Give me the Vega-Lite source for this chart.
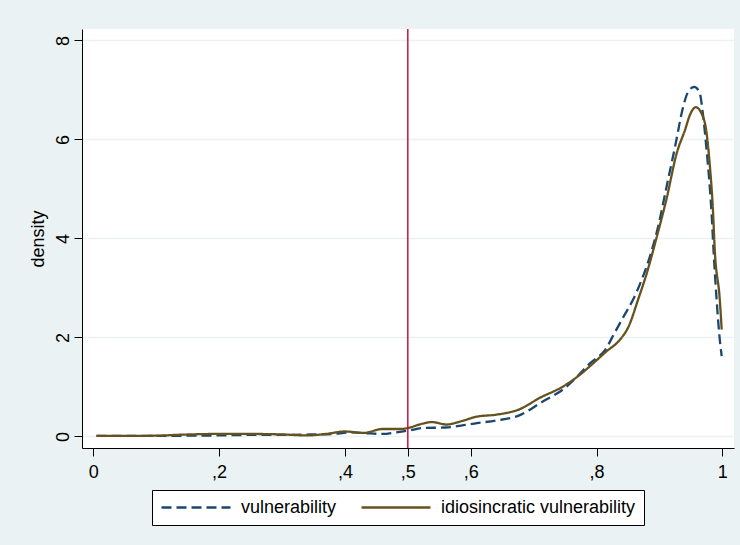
{
  "$schema": "https://vega.github.io/schema/vega-lite/v6.json",
  "width": 652,
  "height": 419,
  "autosize": "none",
  "padding": {"left": 82, "top": 29, "right": 6, "bottom": 97},
  "background": "#EAF2F3",
  "config": {
    "view": {"fill": "white", "stroke": null},
    "font": "Liberation Sans",
    "legend": {
      "orient": "none",
      "legendX": 70,
      "legendY": 461,
      "direction": "horizontal",
      "symbolType": "stroke",
      "symbolSize": 4761,
      "symbolStrokeWidth": 2.3,
      "clipHeight": 19,
      "labelFontSize": 18,
      "labelColor": "#000",
      "labelLimit": 0,
      "labelOffset": 9,
      "columnPadding": 23,
      "padding": 8,
      "strokeColor": "#000",
      "fillColor": "white"
    }
  },
  "datasets": {
    "curves": [
      {"series": "vulnerability", "x": 0.005, "density": 0.01},
      {"series": "vulnerability", "x": 0.05, "density": 0.01},
      {"series": "vulnerability", "x": 0.1, "density": 0.01},
      {"series": "vulnerability", "x": 0.15, "density": 0.015},
      {"series": "vulnerability", "x": 0.2, "density": 0.02},
      {"series": "vulnerability", "x": 0.25, "density": 0.03},
      {"series": "vulnerability", "x": 0.3, "density": 0.03},
      {"series": "vulnerability", "x": 0.35, "density": 0.04},
      {"series": "vulnerability", "x": 0.38, "density": 0.05},
      {"series": "vulnerability", "x": 0.41, "density": 0.08},
      {"series": "vulnerability", "x": 0.44, "density": 0.06},
      {"series": "vulnerability", "x": 0.46, "density": 0.05},
      {"series": "vulnerability", "x": 0.48, "density": 0.08},
      {"series": "vulnerability", "x": 0.5, "density": 0.115},
      {"series": "vulnerability", "x": 0.525, "density": 0.17},
      {"series": "vulnerability", "x": 0.56, "density": 0.18},
      {"series": "vulnerability", "x": 0.585, "density": 0.22},
      {"series": "vulnerability", "x": 0.61, "density": 0.27},
      {"series": "vulnerability", "x": 0.64, "density": 0.32},
      {"series": "vulnerability", "x": 0.68, "density": 0.44},
      {"series": "vulnerability", "x": 0.71, "density": 0.67},
      {"series": "vulnerability", "x": 0.75, "density": 0.98},
      {"series": "vulnerability", "x": 0.79, "density": 1.48},
      {"series": "vulnerability", "x": 0.816, "density": 1.79},
      {"series": "vulnerability", "x": 0.827, "density": 2.05},
      {"series": "vulnerability", "x": 0.843, "density": 2.42},
      {"series": "vulnerability", "x": 0.858, "density": 2.76},
      {"series": "vulnerability", "x": 0.872, "density": 3.17},
      {"series": "vulnerability", "x": 0.885, "density": 3.64},
      {"series": "vulnerability", "x": 0.898, "density": 4.24},
      {"series": "vulnerability", "x": 0.9115, "density": 5.05},
      {"series": "vulnerability", "x": 0.925, "density": 5.86},
      {"series": "vulnerability", "x": 0.938, "density": 6.67},
      {"series": "vulnerability", "x": 0.946, "density": 6.97},
      {"series": "vulnerability", "x": 0.9555, "density": 7.06},
      {"series": "vulnerability", "x": 0.964, "density": 6.94},
      {"series": "vulnerability", "x": 0.969, "density": 6.53},
      {"series": "vulnerability", "x": 0.9745, "density": 5.86},
      {"series": "vulnerability", "x": 0.98, "density": 5.05},
      {"series": "vulnerability", "x": 0.983, "density": 4.5},
      {"series": "vulnerability", "x": 0.986, "density": 3.77},
      {"series": "vulnerability", "x": 0.991, "density": 2.76},
      {"series": "vulnerability", "x": 0.995, "density": 2.09},
      {"series": "vulnerability", "x": 0.999, "density": 1.62},
      {"series": "idiosincratic vulnerability", "x": 0.005, "density": 0.01},
      {"series": "idiosincratic vulnerability", "x": 0.05, "density": 0.01},
      {"series": "idiosincratic vulnerability", "x": 0.1, "density": 0.015},
      {"series": "idiosincratic vulnerability", "x": 0.14, "density": 0.035},
      {"series": "idiosincratic vulnerability", "x": 0.2, "density": 0.05},
      {"series": "idiosincratic vulnerability", "x": 0.25, "density": 0.05},
      {"series": "idiosincratic vulnerability", "x": 0.3, "density": 0.04},
      {"series": "idiosincratic vulnerability", "x": 0.34, "density": 0.02},
      {"series": "idiosincratic vulnerability", "x": 0.37, "density": 0.05},
      {"series": "idiosincratic vulnerability", "x": 0.4, "density": 0.1},
      {"series": "idiosincratic vulnerability", "x": 0.43, "density": 0.07},
      {"series": "idiosincratic vulnerability", "x": 0.46, "density": 0.15},
      {"series": "idiosincratic vulnerability", "x": 0.49, "density": 0.15},
      {"series": "idiosincratic vulnerability", "x": 0.5, "density": 0.17},
      {"series": "idiosincratic vulnerability", "x": 0.524, "density": 0.26},
      {"series": "idiosincratic vulnerability", "x": 0.538, "density": 0.29},
      {"series": "idiosincratic vulnerability", "x": 0.562, "density": 0.24},
      {"series": "idiosincratic vulnerability", "x": 0.583, "density": 0.3},
      {"series": "idiosincratic vulnerability", "x": 0.61, "density": 0.4},
      {"series": "idiosincratic vulnerability", "x": 0.641, "density": 0.44},
      {"series": "idiosincratic vulnerability", "x": 0.678, "density": 0.55},
      {"series": "idiosincratic vulnerability", "x": 0.71, "density": 0.78},
      {"series": "idiosincratic vulnerability", "x": 0.747, "density": 1.01},
      {"series": "idiosincratic vulnerability", "x": 0.774, "density": 1.25},
      {"series": "idiosincratic vulnerability", "x": 0.795, "density": 1.48},
      {"series": "idiosincratic vulnerability", "x": 0.816, "density": 1.72},
      {"series": "idiosincratic vulnerability", "x": 0.837, "density": 1.95},
      {"series": "idiosincratic vulnerability", "x": 0.851, "density": 2.22},
      {"series": "idiosincratic vulnerability", "x": 0.866, "density": 2.76},
      {"series": "idiosincratic vulnerability", "x": 0.88, "density": 3.3},
      {"series": "idiosincratic vulnerability", "x": 0.896, "density": 4.04},
      {"series": "idiosincratic vulnerability", "x": 0.911, "density": 4.78},
      {"series": "idiosincratic vulnerability", "x": 0.9275, "density": 5.72},
      {"series": "idiosincratic vulnerability", "x": 0.941, "density": 6.2},
      {"series": "idiosincratic vulnerability", "x": 0.9487, "density": 6.5},
      {"series": "idiosincratic vulnerability", "x": 0.958, "density": 6.65},
      {"series": "idiosincratic vulnerability", "x": 0.9667, "density": 6.53},
      {"series": "idiosincratic vulnerability", "x": 0.975, "density": 6.13},
      {"series": "idiosincratic vulnerability", "x": 0.98, "density": 5.5},
      {"series": "idiosincratic vulnerability", "x": 0.985, "density": 4.6},
      {"series": "idiosincratic vulnerability", "x": 0.988, "density": 3.77},
      {"series": "idiosincratic vulnerability", "x": 0.996, "density": 2.76},
      {"series": "idiosincratic vulnerability", "x": 0.999, "density": 2.16}
    ]
  },
  "layer": [
    {
      "data": {"name": "curves"},
      "mark": {"type": "line", "interpolate": "monotone", "strokeWidth": 2.3},
      "encoding": {
        "x": {
          "field": "x",
          "type": "quantitative",
          "scale": {"domain": [-0.018, 1.0186], "nice": false, "zero": false},
          "axis": {
            "title": null,
            "values": [0, 0.2, 0.4, 0.5, 0.6, 0.8, 1],
            "labelExpr": "replace(format(datum.value, '~g'), '0.', ',')",
            "grid": false,
            "domainColor": "#000",
            "tickColor": "#000",
            "tickSize": 8,
            "labelFontSize": 18,
            "labelColor": "#000",
            "labelPadding": 21,
            "labelBaseline": "alphabetic",
            "labelFlush": false,
            "labelOverlap": false
          }
        },
        "y": {
          "field": "density",
          "type": "quantitative",
          "scale": {"domain": [-0.234, 8.23], "nice": false, "zero": false},
          "axis": {
            "title": "density",
            "values": [0, 2, 4, 6, 8],
            "grid": true,
            "gridColor": "#EAF2F3",
            "gridWidth": 1.5,
            "domainColor": "#000",
            "tickColor": "#000",
            "tickSize": 8,
            "labelAngle": -90,
            "labelAlign": "center",
            "labelBaseline": "alphabetic",
            "labelPadding": 6,
            "labelFontSize": 18,
            "labelColor": "#000",
            "labelFlush": false,
            "labelOverlap": false,
            "titleFontSize": 18,
            "titleFontWeight": "normal",
            "titleColor": "#000",
            "titleAngle": -90,
            "titleAlign": "center",
            "titleBaseline": "alphabetic",
            "titleX": -39,
            "titleY": 209.5
          }
        },
        "color": {
          "field": "series",
          "type": "nominal",
          "scale": {"domain": ["vulnerability", "idiosincratic vulnerability"], "range": ["#1A476F", "#66521F"]},
          "legend": {"title": null}
        },
        "strokeDash": {
          "field": "series",
          "type": "nominal",
          "scale": {"domain": ["vulnerability", "idiosincratic vulnerability"], "range": [[10, 5], [1, 0]]},
          "legend": {"title": null}
        }
      }
    },
    {
      "data": {"values": [{"x": 0.5}]},
      "mark": {"type": "rule", "color": "#C8143C", "strokeWidth": 1.5},
      "encoding": {"x": {"field": "x", "type": "quantitative"}}
    }
  ]
}
